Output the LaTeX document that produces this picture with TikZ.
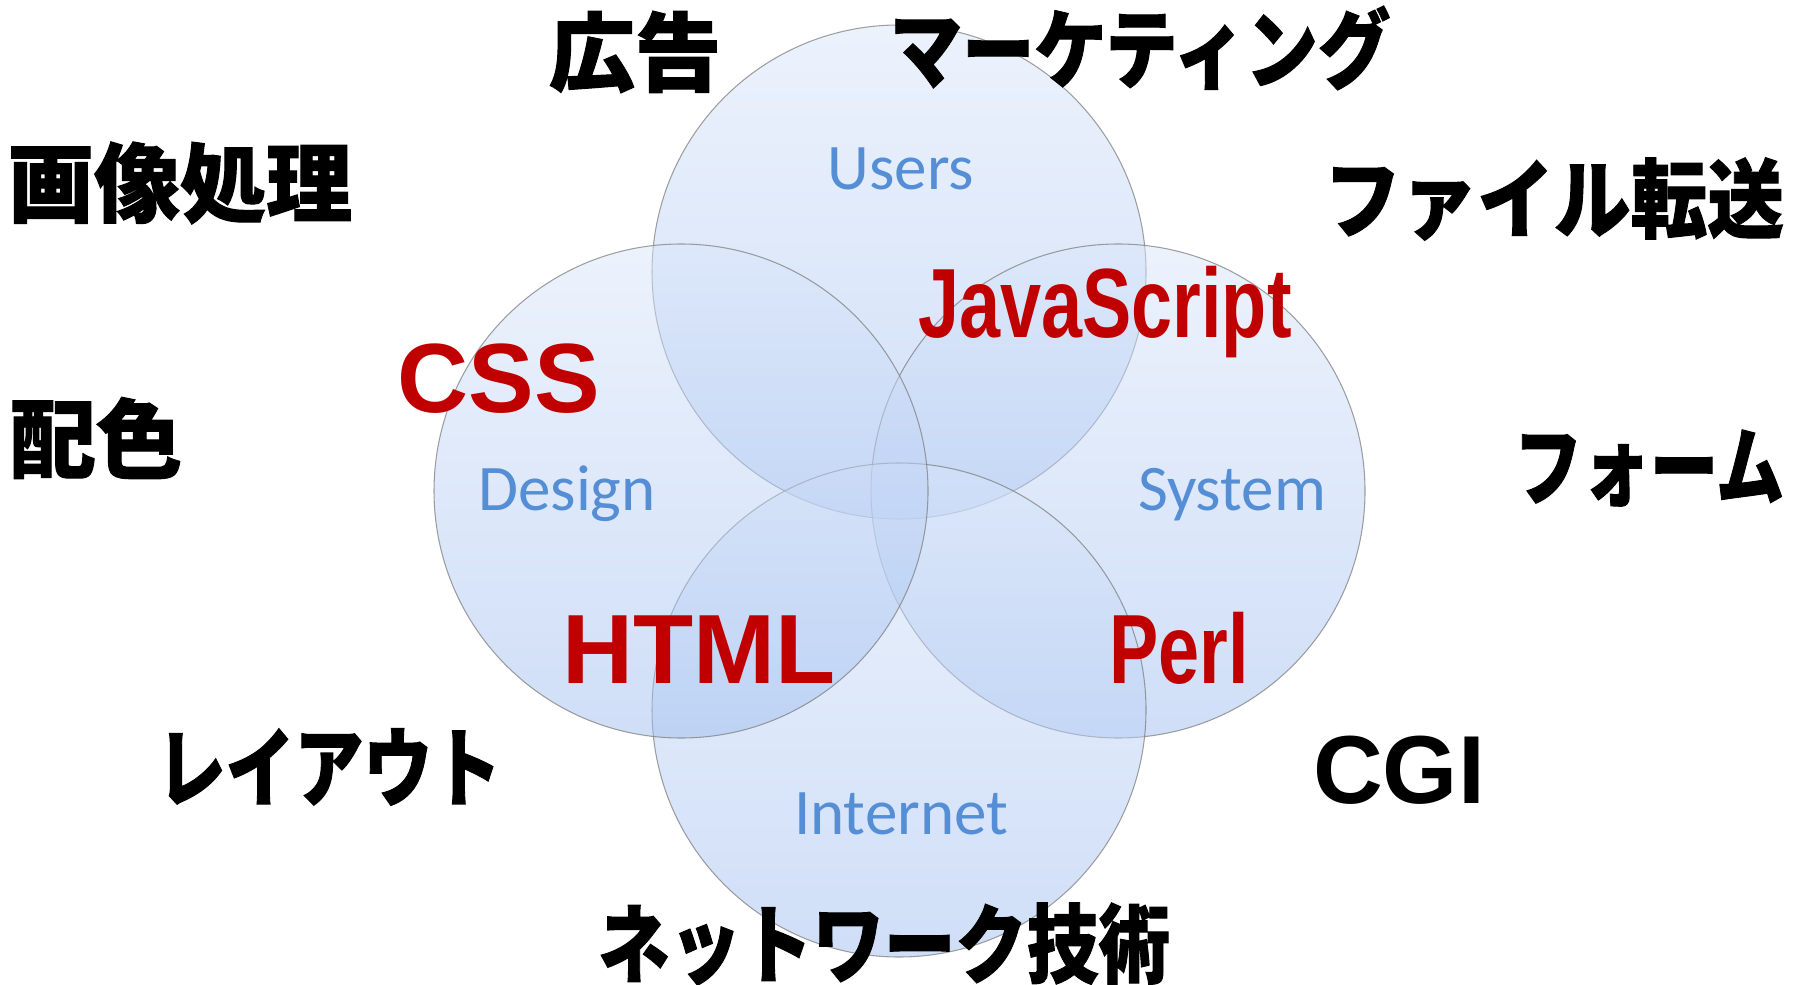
\documentclass[tikz,border=0pt]{standalone}
\usepackage{fontspec}
\newfontfamily\jpfont{Noto Sans CJK JP}[BoldFeatures={FakeBold=1.2}]
\newfontfamily\arialfont{Liberation Sans}
\newfontfamily\narrowfont{Liberation Sans}[FakeStretch=0.75]
\newfontfamily\calfont{Carlito}
\definecolor{venntop}{RGB}{218,230,250}
\definecolor{vennbot}{RGB}{160,190,240}
\definecolor{langred}{RGB}{192,0,0}
\definecolor{topicblue}{RGB}{85,142,213}

\begin{document}
\begin{tikzpicture}[x=0.1mm,y=-0.1mm,
	venn/.style={circle,minimum size=49.4mm,inner sep=0pt,draw=gray,draw opacity=0.75,line width=0.3pt,
		top color=venntop,bottom color=vennbot,fill opacity=0.5},
	topic/.style={font=\calfont\fontsize{18.5}{20}\selectfont,text=topicblue,anchor=base},
	lang/.style={font=\arialfont\bfseries\fontsize{28}{30}\selectfont,text=langred,anchor=base},
	narrowlang/.style={lang,font=\narrowfont\bfseries\fontsize{28}{30}\selectfont},
	skill/.style={font=\jpfont\bfseries\fontsize{24.5}{26}\selectfont,inner sep=0pt}]
	\useasboundingbox (0,0) rectangle (1798,984);
	\node[venn] (users) at (899,272) {};
	\node[venn] (system) at (1118,491) {};
	\node[venn] (internet) at (899,710) {};
	\node[venn] (design) at (681,491) {};
	\node[topic] (userslbl) at (901,190) {Users};
	\node[topic] (designlbl) at (567,510) {Design};
	\node[topic] (systemlbl) at (1232,510) {System};
	\node[topic] (internetlbl) at (901,834) {Internet};
	\node[lang] (css) at (499,412) {CSS};
	\node[lang] (html) at (699,683) {HTML};
	\node[narrowlang] (js) at (1105,337) {JavaScript};
	\node[narrowlang] (perl) at (1179,683) {Perl};
	\node[lang,text=black,font=\arialfont\bfseries\fontsize{27.5}{30}\selectfont] (cgi) at (1399,803) {CGI};
	\node[skill] (koukoku) at (635,52) {広告};
	\node[skill,xscale=0.84] (marketing) at (1140,48) {マーケティング};
	\node[skill] (gazou) at (180,183) {画像処理};
	\node[skill,xscale=0.89] (file) at (1554,199) {ファイル転送};
	\node[skill] (haishoku) at (96,438) {配色};
	\node[skill,xscale=0.79] (form) at (1649,468) {フォーム};
	\node[skill,xscale=0.8] (layout) at (329,767) {レイアウト};
	\node[skill,xscale=0.83] (network) at (884,944) {ネットワーク技術};
\end{tikzpicture}
\end{document}
